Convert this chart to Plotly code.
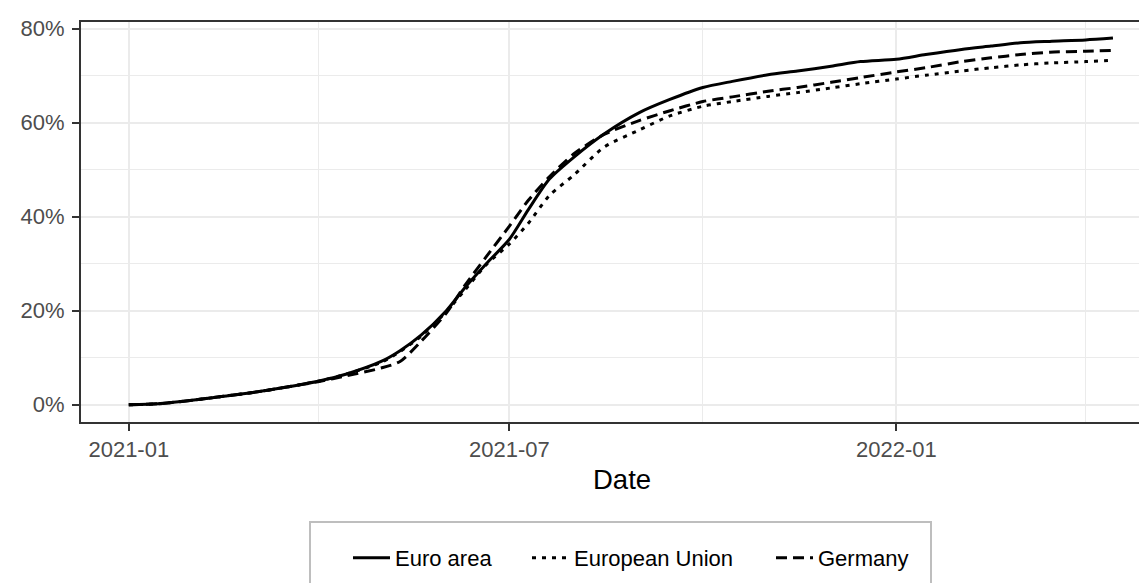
import plotly.graph_objects as go

dates = ["2021-01-01", "2021-01-15", "2021-02-01", "2021-02-15", "2021-03-01", "2021-03-15",
         "2021-04-01", "2021-04-15", "2021-05-01", "2021-05-10", "2021-05-20", "2021-06-01",
         "2021-06-10", "2021-06-20", "2021-07-01", "2021-07-10", "2021-07-20", "2021-08-01",
         "2021-08-15", "2021-09-01", "2021-09-15", "2021-10-01", "2021-10-15", "2021-11-01",
         "2021-11-15", "2021-12-01", "2021-12-15", "2022-01-01", "2022-01-15", "2022-02-01",
         "2022-02-15", "2022-03-01", "2022-03-15", "2022-04-01", "2022-04-14"]

euro_area = [0.0, 0.2, 1.0, 1.8, 2.6, 3.6, 5.0, 6.6, 9.2, 11.5, 14.8, 20.0,
             25.0, 30.0, 35.2, 41.5, 48.0, 52.8, 57.6, 62.2, 64.9, 67.5, 68.8, 70.2,
             71.0, 72.0, 73.0, 73.5, 74.5, 75.6, 76.3, 77.0, 77.3, 77.6, 78.0]

european_union = [0.0, 0.2, 1.0, 1.8, 2.6, 3.6, 5.0, 6.6, 9.0, 11.3, 14.6, 19.8,
                  24.5, 29.8, 34.2, 38.6, 44.5, 49.0, 54.8, 58.5, 61.4, 63.5, 64.5, 65.6,
                  66.4, 67.4, 68.3, 69.3, 70.1, 71.0, 71.7, 72.3, 72.7, 73.0, 73.3]

germany = [0.0, 0.2, 1.0, 1.8, 2.6, 3.6, 4.9, 6.2, 7.8, 9.2, 13.5, 19.5,
           25.5, 31.5, 38.0, 43.5, 48.5, 53.5, 57.5, 60.5, 62.5, 64.5, 65.5, 66.7,
           67.5, 68.6, 69.6, 70.8, 71.7, 73.0, 73.8, 74.5, 75.0, 75.2, 75.4]

series_names = ["Euro area", "European Union", "Germany"]
series_values = [euro_area, european_union, germany]
series_dash = ["solid", "4px,6px", "11px,6px"]

x_ticks = ["2021-01-01", "2021-07-01", "2022-01-01"]
x_minor = ["2021-04-01", "2021-10-01", "2022-04-01"]
y_ticks = [0, 20, 40, 60, 80]
y_tick_labels = ["0%", "20%", "40%", "60%", "80%"]
y_minor = [10, 30, 50, 70]

FONT = "Liberation Sans, Arial, sans-serif"

W, H = 1147, 583
L, R, T, B = 72, 0, 13, 168
PW = W - L - R
PH = H - T - B


def px_x(px):
    return (px - L) / PW


def px_y(py):
    return (H - B - py) / PH


legend_ids = ["legend", "legend2", "legend3"]
legend_left_px = [340, 519, 763]

fig = go.Figure()
for name, vals, dash, lid in zip(series_names, series_values, series_dash, legend_ids):
    fig.add_trace(go.Scatter(x=dates, y=vals, mode="lines", name=name, legend=lid,
                             line=dict(color="black", width=3, dash=dash,
                                       shape="spline", smoothing=0.7)))

legend_common = dict(orientation="h", xanchor="left", yanchor="middle",
                     borderwidth=0, bgcolor="rgba(0,0,0,0)",
                     font=dict(family=FONT, size=22, color="black"),
                     itemwidth=37)

layout_legends = {}
for lid, lx in zip(legend_ids, legend_left_px):
    layout_legends[lid] = dict(legend_common, x=px_x(lx), y=px_y(550))

fig.update_layout(
    width=W, height=H,
    margin=dict(l=L, r=R, t=T, b=B, pad=0),
    paper_bgcolor="white", plot_bgcolor="white",
    font=dict(family=FONT, color="#4D4D4D", size=22),
    showlegend=True,
    xaxis=dict(
        type="date",
        range=["2020-12-08 19:00", "2022-05-04"],
        tickmode="array", tickvals=x_ticks, tickformat="%Y-%m",
        ticks="outside", ticklen=7, tickwidth=2, tickcolor="#333333",
        tickfont=dict(family=FONT, size=22, color="#4D4D4D"),
        showgrid=True, gridcolor="#EBEBEB", gridwidth=2,
        minor=dict(tickmode="array", tickvals=x_minor, showgrid=True,
                   gridcolor="#EBEBEB", gridwidth=1.2, ticks=""),
        showline=False, zeroline=False, fixedrange=True,
    ),
    yaxis=dict(
        range=[-3.89, 81.64],
        tickmode="array", tickvals=y_ticks, ticktext=y_tick_labels,
        ticks="outside", ticklen=7, tickwidth=2, tickcolor="#333333",
        tickfont=dict(family=FONT, size=22, color="#4D4D4D"),
        ticklabelstandoff=3,
        showgrid=True, gridcolor="#EBEBEB", gridwidth=2,
        minor=dict(tickmode="array", tickvals=y_minor, showgrid=True,
                   gridcolor="#EBEBEB", gridwidth=1.2, ticks=""),
        showline=False, zeroline=False, fixedrange=True,
    ),
    shapes=[
        dict(type="rect", xref="paper", yref="paper", x0=0, x1=1.02, y0=0, y1=1,
             line=dict(color="#333333", width=2), fillcolor="rgba(0,0,0,0)", layer="above"),
        dict(type="rect", xref="paper", yref="paper",
             x0=px_x(302), x1=px_x(923), y0=px_y(587), y1=px_y(514),
             line=dict(color="#BEBEBE", width=2), fillcolor="rgba(0,0,0,0)", layer="above"),
    ],
    annotations=[dict(text="Date", xref="paper", yref="paper", x=px_x(614), y=px_y(471),
                      xanchor="center", yanchor="middle", showarrow=False,
                      font=dict(family=FONT, size=27.5, color="black"))],
    **layout_legends,
)

fig.write_html("out.html")
